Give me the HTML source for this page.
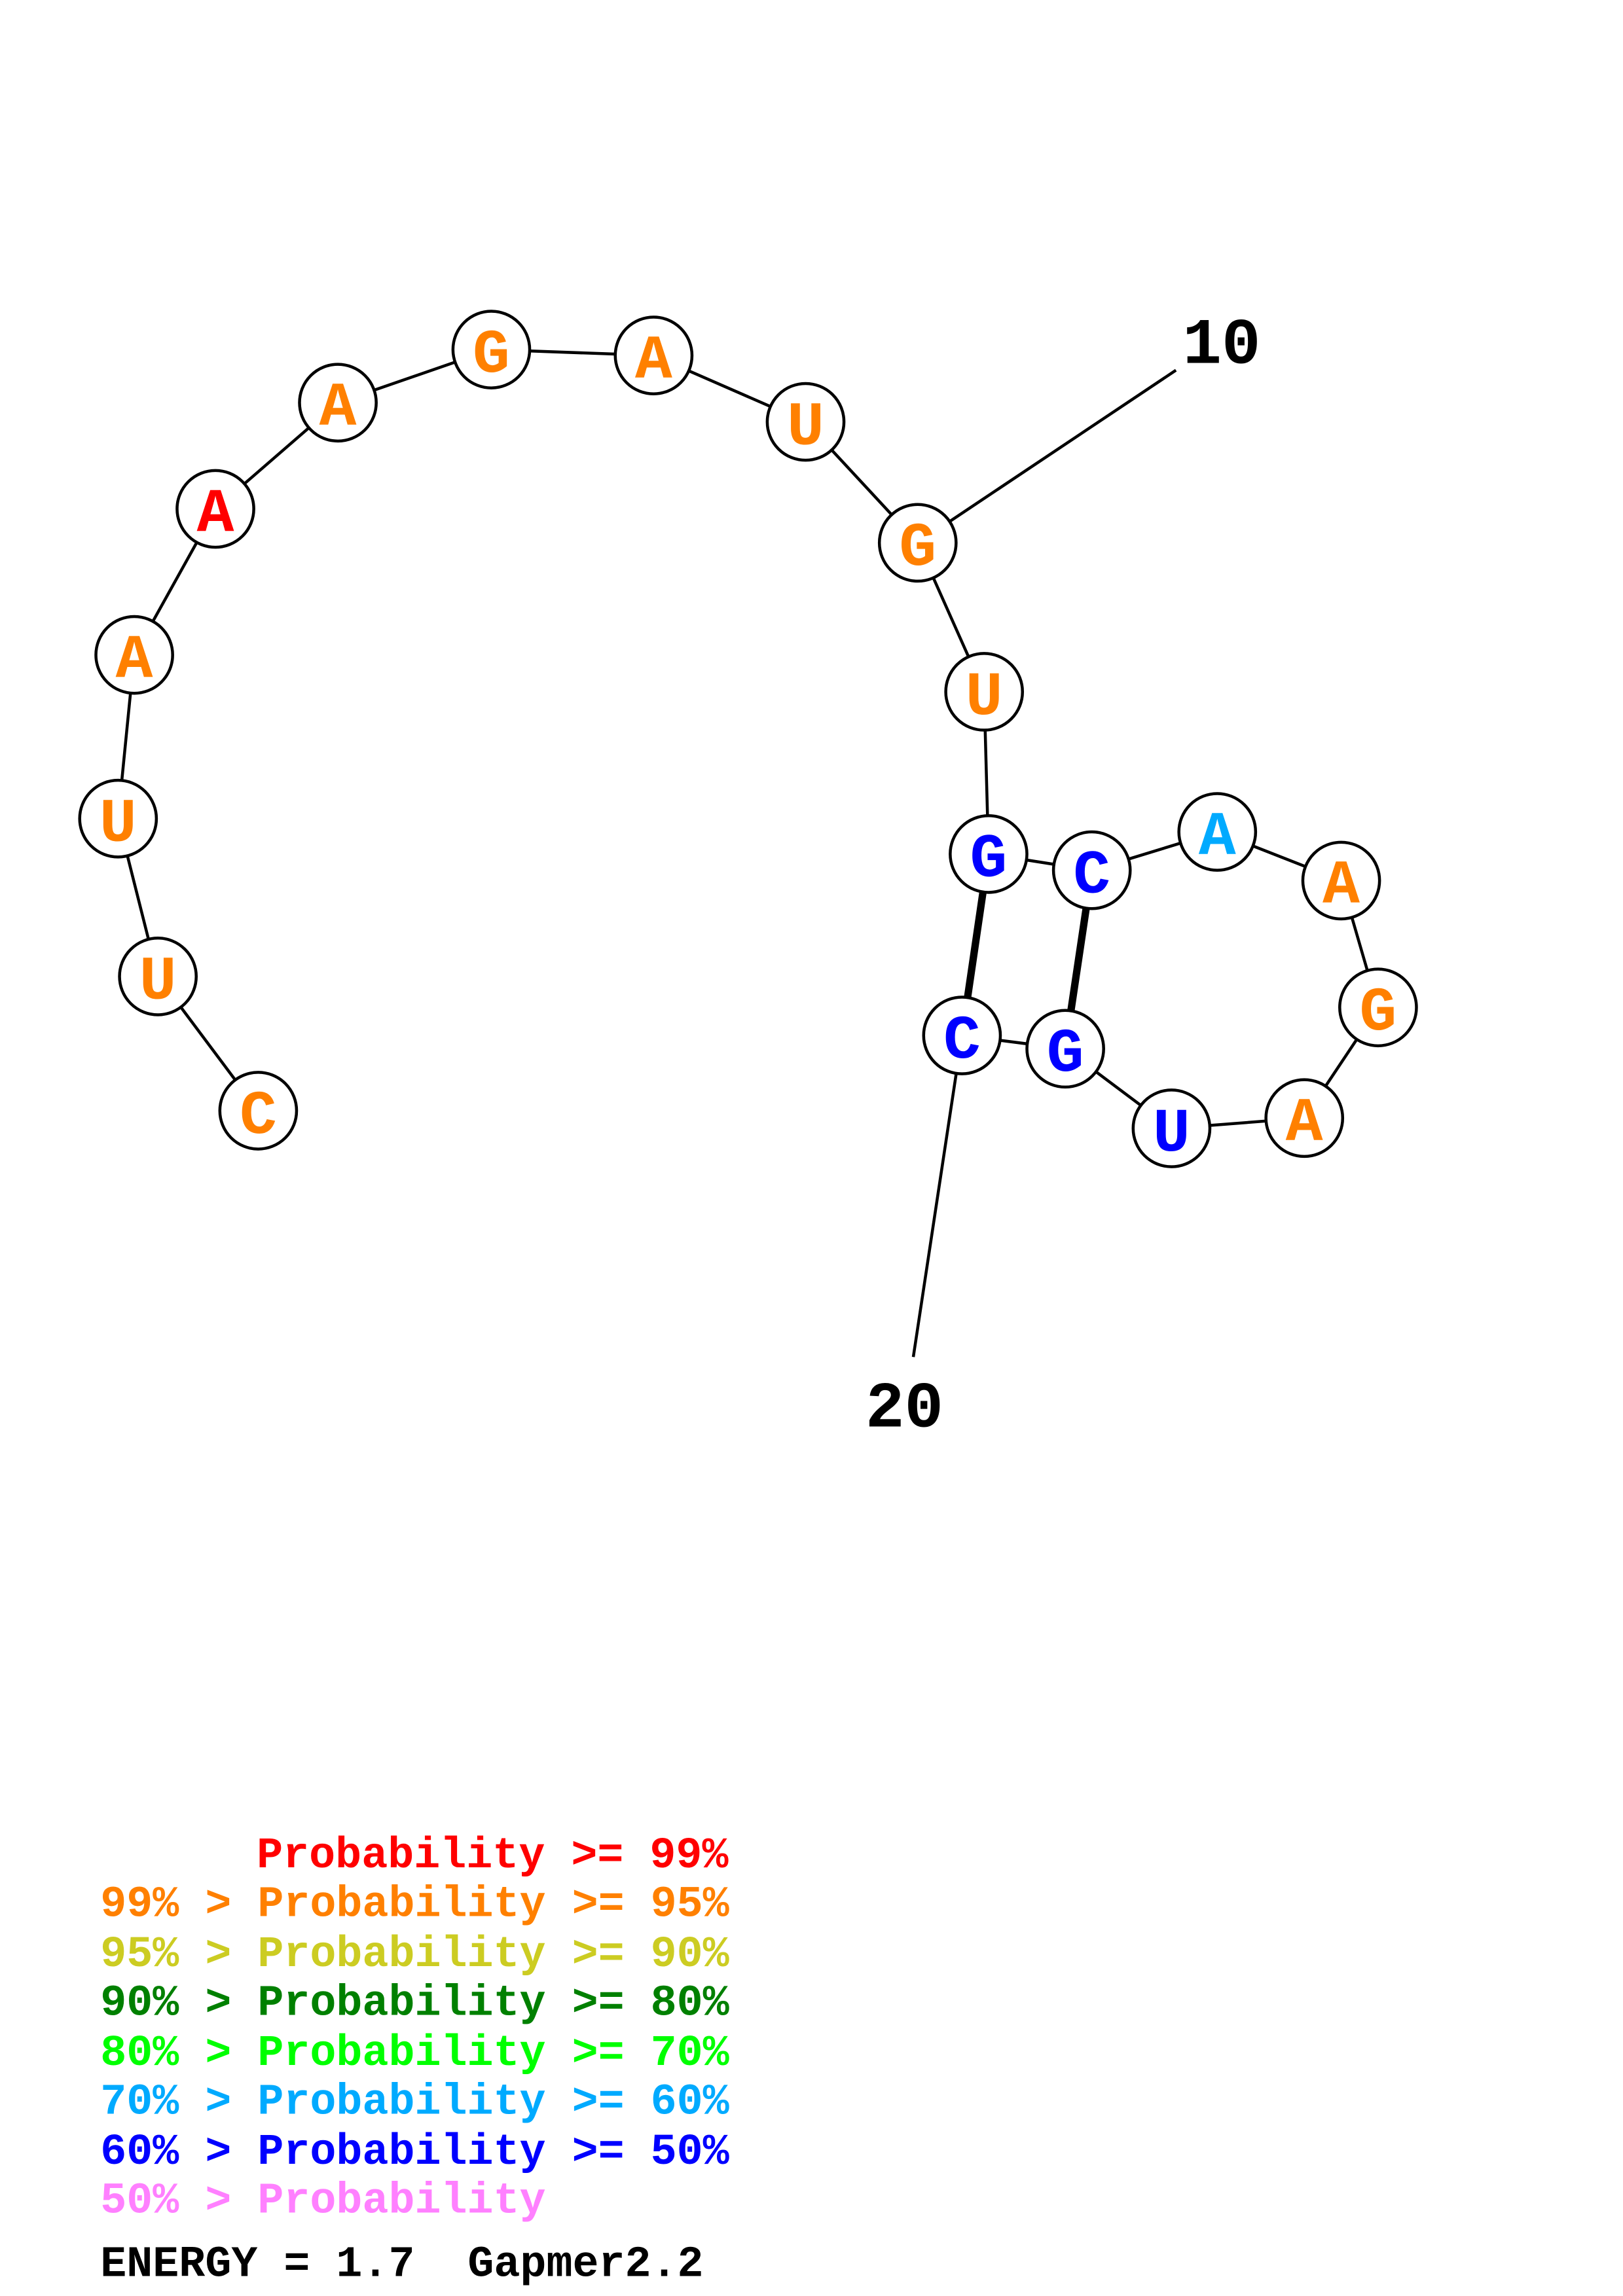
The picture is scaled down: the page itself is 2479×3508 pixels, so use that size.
<!DOCTYPE html>
<html><head><meta charset="utf-8"><style>
html,body{margin:0;padding:0;background:#fff;}
svg{display:block;}
text{font-family:"Liberation Mono","DejaVu Sans Mono",monospace;font-weight:bold;}
</style></head><body>
<svg width="2479" height="3508" viewBox="0 0 1100 1556.6" xmlns="http://www.w3.org/2000/svg">
<rect width="1100" height="1557" fill="#fff"/>
<g stroke="#000" stroke-width="2" fill="none">
<polyline points="175,753 107,662 80,555 91,444 146,345 229,273 333,237 443,241 546,286 622,368 667,469 670,579 740,590 825,564 909,597 934,683 884,758 794,765 722,711 652,702"/>
<line x1="622" y1="368" x2="797" y2="251"/>
<line x1="652" y1="702" x2="619" y2="920"/>
<line x1="670" y1="579" x2="652" y2="702" stroke-width="5"/>
<line x1="740" y1="590" x2="722" y2="711" stroke-width="5"/>
</g>
<g stroke="#000" stroke-width="2" fill="#fff">
<circle cx="175" cy="753" r="26"/><circle cx="107" cy="662" r="26"/><circle cx="80" cy="555" r="26"/>
<circle cx="91" cy="444" r="26"/><circle cx="146" cy="345" r="26"/><circle cx="229" cy="273" r="26"/>
<circle cx="333" cy="237" r="26"/><circle cx="443" cy="241" r="26"/><circle cx="546" cy="286" r="26"/>
<circle cx="622" cy="368" r="26"/><circle cx="667" cy="469" r="26"/><circle cx="670" cy="579" r="26"/>
<circle cx="740" cy="590" r="26"/><circle cx="825" cy="564" r="26"/><circle cx="909" cy="597" r="26"/>
<circle cx="934" cy="683" r="26"/><circle cx="884" cy="758" r="26"/><circle cx="794" cy="765" r="26"/>
<circle cx="722" cy="711" r="26"/><circle cx="652" cy="702" r="26"/>
</g>
<g font-size="42" text-anchor="middle">
<text x="175" y="768" fill="#ff8000">C</text>
<text x="107" y="677" fill="#ff8000">U</text>
<text x="80" y="570" fill="#ff8000">U</text>
<text x="91" y="459" fill="#ff8000">A</text>
<text x="146" y="360" fill="#ff0000">A</text>
<text x="229" y="288" fill="#ff8000">A</text>
<text x="333" y="252" fill="#ff8000">G</text>
<text x="443" y="256" fill="#ff8000">A</text>
<text x="546" y="301" fill="#ff8000">U</text>
<text x="622" y="383" fill="#ff8000">G</text>
<text x="667" y="484" fill="#ff8000">U</text>
<text x="670" y="594" fill="#0000ff">G</text>
<text x="740" y="605" fill="#0000ff">C</text>
<text x="825" y="579" fill="#00aaff">A</text>
<text x="909" y="612" fill="#ff8000">A</text>
<text x="934" y="698" fill="#ff8000">G</text>
<text x="884" y="773" fill="#ff8000">A</text>
<text x="794" y="780" fill="#0000ff">U</text>
<text x="722" y="726" fill="#0000ff">G</text>
<text x="652" y="717" fill="#0000ff">C</text>
</g>
<text x="828" y="246" font-size="44" text-anchor="middle" fill="#000">10</text>
<text x="613" y="967" font-size="44" text-anchor="middle" fill="#000">20</text>
<g font-size="29.6">
<text x="174" y="1266" fill="#ff0000">Probability &gt;= 99%</text>
<text x="68" y="1299" fill="#ff8000">99% &gt; Probability &gt;= 95%</text>
<text x="68" y="1333" fill="#cccc22">95% &gt; Probability &gt;= 90%</text>
<text x="68" y="1366" fill="#008000">90% &gt; Probability &gt;= 80%</text>
<text x="68" y="1400" fill="#00ff00">80% &gt; Probability &gt;= 70%</text>
<text x="68" y="1433" fill="#00aaff">70% &gt; Probability &gt;= 60%</text>
<text x="68" y="1467" fill="#0000ff">60% &gt; Probability &gt;= 50%</text>
<text x="68" y="1500" fill="#ff80ff">50% &gt; Probability</text>
<text x="68" y="1543" fill="#000">ENERGY = 1.7</text>
<text x="317" y="1543" fill="#000">Gapmer2.2</text>
</g>
</svg>
</body></html>
